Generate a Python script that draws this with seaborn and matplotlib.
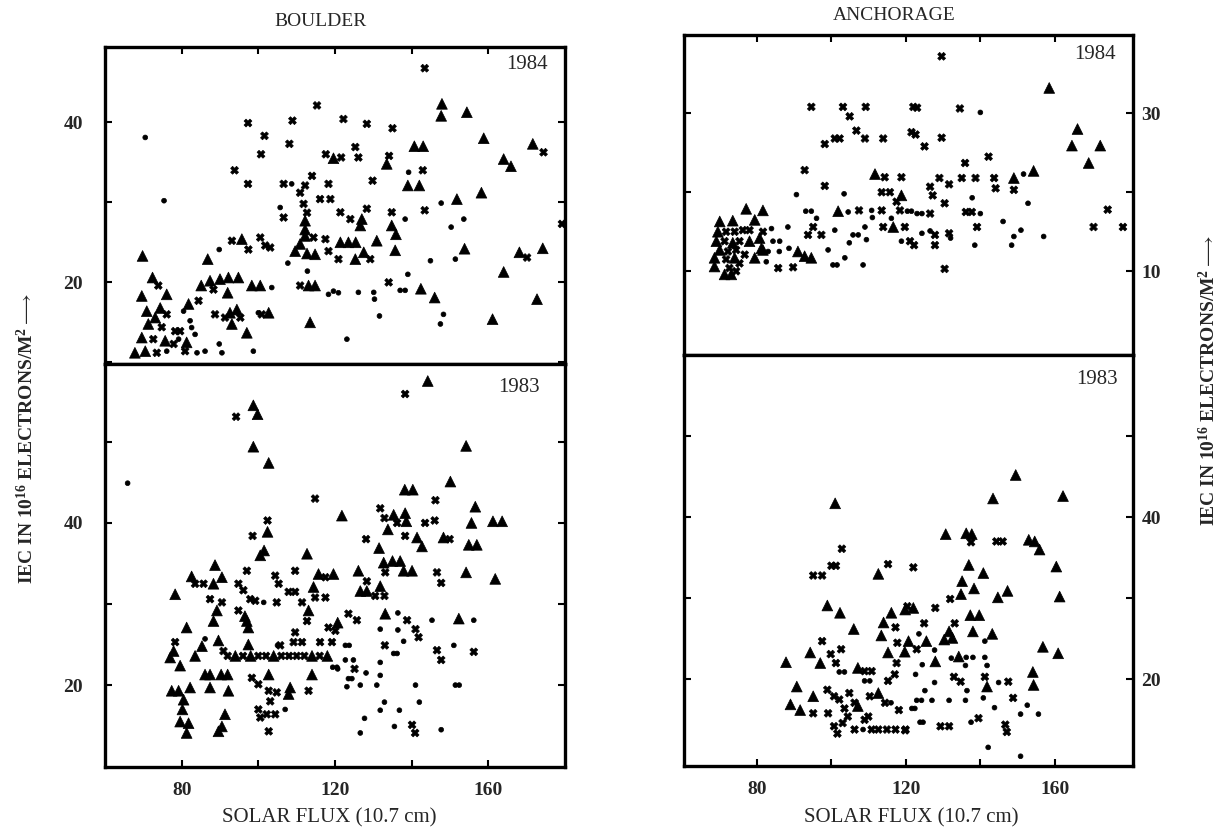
import matplotlib
matplotlib.use("Agg")
import matplotlib.pyplot as plt
import pandas as pd
import seaborn as sns

# ---------------- data (solar flux, IEC) ----------------
boulder84_tri = [(119.6,35.5),(112.2,27.7),(112.2,26.6),(112.2,25.8),(95.7,25.4),(86.8,22.9),(69.8,23.3),
    (109.6,23.9),(110.9,24.8),(112.7,23.6),(114.8,23.5),(85.1,19.6),(87.4,20.2),(90.0,20.4),(92.2,20.6),
    (94.8,20.6),(92.0,18.7),(98.3,19.6),(100.5,19.6),(113.1,19.6),(114.8,19.6),(72.4,20.6),(76.1,18.5),
    (69.6,18.3),(70.9,16.4),(74.4,16.8),(73.1,15.6),(71.3,14.8),(69.6,13.1),(75.7,12.7),(70.5,11.4),
    (67.8,11.2),(81.3,12.5),(81.8,17.3),(93.1,14.8),(92.6,16.2),(94.4,16.6),(97.0,13.7),(102.7,16.2),
    (113.5,15.0),(147.9,42.3),(147.7,40.8),(154.4,41.25),(140.7,37.0),(143.0,37.0),(158.8,38.0),
    (171.6,37.3),(133.5,34.8),(164.0,35.4),(165.9,34.5),(139.0,32.1),(142.0,32.1),(151.8,30.4),
    (158.2,31.2),(127.0,27.9),(126.6,27.1),(134.8,27.1),(135.9,26.0),(121.4,25.0),(123.5,25.0),
    (125.4,25.0),(127.5,23.75),(125.3,22.9),(130.9,25.2),(135.7,24.0),(153.8,24.2),(168.1,23.75),
    (174.2,24.25),(164.0,21.3),(142.4,19.2),(146.0,18.1),(172.7,17.9),(161.1,15.4)]
boulder84_x = [(115.3,42.1),(97.3,39.9),(108.9,40.2),(101.6,38.3),(108.1,37.3),(100.7,36.0),(117.6,36.0),
    (93.8,34.0),(97.3,32.3),(106.6,32.3),(112.2,32.1),(114.0,33.3),(110.9,31.2),(118.3,32.3),(116.1,30.4),
    (118.8,30.4),(106.6,28.1),(111.8,29.8),(112.7,28.7),(114.4,25.6),(117.5,25.4),(93.1,25.2),(97.4,24.1),
    (100.5,25.6),(101.8,24.6),(103.1,24.35),(118.3,23.9),(88.3,19.1),(110.9,19.6),(73.9,19.6),(76.1,16.0),
    (74.8,14.4),(72.6,12.9),(77.9,12.3),(73.5,11.2),(78.3,13.9),(79.6,13.9),(80.9,11.4),(84.4,17.7),
    (88.7,16.0),(91.3,15.6),(95.3,15.6),(100.9,16.0),(143.4,46.75),(122.2,40.4),(128.3,39.8),(135.0,39.25),
    (174.4,36.25),(121.6,35.6),(125.3,36.9),(126.1,35.6),(134.1,35.8),(142.9,34.0),(129.8,32.7),
    (143.4,29.0),(121.4,28.75),(124.0,27.9),(128.3,29.2),(134.8,28.75),(129.2,22.9),(120.9,22.9),
    (170.1,23.1),(179.2,27.3),(134.0,20.0)]
boulder84_dot = [(70.5,38.1),(108.7,32.3),(75.4,30.2),(105.7,29.35),(89.8,24.1),(107.7,22.4),(112.8,21.4),
    (103.5,19.35),(118.3,18.5),(119.6,18.9),(120.9,18.7),(76.1,11.4),(79.2,12.9),(82.2,15.2),(82.6,14.35),
    (83.5,13.5),(84.0,11.2),(86.1,11.4),(89.8,12.3),(90.5,11.2),(98.7,11.4),(80.5,16.4),(100.0,16.2),
    (139.2,33.75),(147.7,29.9),(138.3,27.9),(150.3,26.9),(153.6,27.9),(144.9,22.7),(151.4,22.9),
    (139.0,21.0),(137.0,19.0),(138.3,19.0),(126.1,18.75),(130.1,18.75),(130.3,17.9),(131.6,15.8),
    (148.3,16.0),(147.5,14.8),(123.1,12.9)]

boulder83_tri = [(98.7,54.5),(99.8,53.4),(98.7,49.4),(102.7,47.4),(102.4,38.9),(100.5,36.0),(101.5,36.6),
    (112.7,36.2),(88.7,34.8),(82.6,33.4),(78.3,31.2),(88.3,32.5),(90.5,33.3),(115.7,33.7),(119.6,33.7),
    (114.4,32.1),(113.1,29.2),(89.2,29.2),(88.3,27.9),(97.0,27.9),(97.4,27.1),(96.5,28.5),(81.3,27.1),
    (85.3,24.8),(77.9,24.2),(77.0,23.4),(83.5,23.6),(79.6,22.4),(89.6,25.5),(97.4,25.0),(86.1,21.3),
    (87.4,21.3),(90.3,21.3),(92.0,21.3),(87.4,19.7),(92.2,19.3),(77.4,19.3),(79.2,19.3),(82.2,19.7),
    (80.5,18.2),(80.2,17.0),(79.6,15.5),(81.8,15.3),(81.3,14.1),(91.3,16.4),(89.6,14.3),(90.5,14.9),
    (102.7,21.3),(107.9,18.9),(108.3,19.7),(114.0,21.3),(94.0,23.6),(98.0,23.6),(104.0,23.6),(114.0,23.6),
    (118.0,23.6),(144.2,57.5),(154.2,49.5),(150.1,45.1),(138.2,44.1),(140.3,44.1),(156.6,42.0),
    (121.8,40.9),(135.3,41.0),(138.3,41.2),(138.6,40.2),(133.8,39.2),(155.6,40.0),(161.2,40.2),
    (163.6,40.2),(141.4,38.2),(142.7,37.1),(148.3,38.2),(154.9,37.3),(157.0,37.3),(131.5,36.9),
    (132.7,35.1),(135.0,35.3),(137.0,35.3),(137.9,34.1),(140.1,34.1),(126.1,34.1),(154.2,33.9),
    (161.8,33.1),(126.6,31.6),(128.3,31.6),(131.8,32.2),(120.7,27.7),(133.1,28.8),(152.3,28.2)]
boulder83_x = [(94.2,53.1),(114.8,43.0),(102.4,40.3),(98.5,38.4),(97.0,34.1),(109.6,34.1),(83.5,32.5),
    (85.7,32.5),(87.4,30.6),(94.8,32.5),(96.1,31.7),(97.9,30.6),(99.2,30.4),(104.8,30.2),(104.4,33.5),
    (105.3,32.5),(117.5,33.3),(107.9,31.5),(109.6,31.5),(111.4,30.2),(114.8,30.8),(117.5,30.8),
    (112.7,27.9),(90.5,30.2),(94.8,29.2),(78.3,25.3),(90.9,24.2),(105.7,24.9),(109.2,25.3),(111.4,25.3),
    (116.1,25.3),(119.2,25.3),(109.6,26.5),(118.3,27.1),(120.1,26.7),(98.3,20.9),(100.0,20.1),
    (102.7,19.3),(104.8,19.1),(103.1,18.0),(100.0,17.0),(100.5,16.0),(102.2,16.4),(104.4,16.4),
    (102.7,14.3),(113.1,19.3),(92.0,23.6),(96.0,23.6),(100.0,23.6),(102.0,23.6),(106.0,23.6),
    (108.0,23.6),(110.0,23.6),(112.0,23.6),(116.0,23.6),(138.3,55.9),(146.2,42.8),(131.8,41.8),
    (132.9,40.6),(136.2,40.0),(143.5,40.0),(146.0,40.3),(138.3,38.4),(149.9,38.0),(128.1,38.0),
    (133.1,33.9),(128.3,32.8),(146.6,33.9),(147.7,32.6),(130.5,31.0),(132.9,31.0),(123.5,28.8),
    (125.7,28.0),(138.8,28.0),(141.0,26.9),(141.8,25.9),(133.0,24.9),(146.6,24.3),(147.7,23.1),
    (156.2,24.1),(125.1,22.0),(140.1,15.1),(140.9,14.1)]
boulder83_dot = [(65.9,44.9),(101.4,30.2),(86.1,25.7),(107.0,17.0),(120.5,22.2),(119.4,22.2),(105.0,24.9),
    (136.4,28.9),(145.3,28.0),(156.2,28.0),(131.8,26.9),(136.4,26.8),(137.9,25.4),(135.3,23.9),
    (136.2,23.9),(151.0,24.9),(122.7,24.9),(123.7,24.9),(122.7,23.1),(124.8,23.1),(120.7,22.0),
    (131.8,22.8),(128.1,21.5),(123.5,20.8),(124.4,20.8),(126.6,20.0),(123.1,19.8),(130.9,20.0),
    (141.0,20.0),(131.8,21.2),(151.4,20.0),(152.4,20.0),(132.9,17.9),(136.8,16.9),(142.0,17.9),
    (131.8,16.9),(127.7,15.9),(126.6,14.1),(135.5,14.9),(147.7,14.5)]

anchorage84_tri = [(111.7,22.3),(118.8,19.6),(77.1,17.9),(81.6,17.7),(101.8,17.6),(79.4,16.5),(116.6,15.6),
    (91.0,12.5),(92.8,11.9),(94.6,11.7),(70.0,16.3),(73.5,16.4),(69.5,15.0),(69.1,13.8),(73.5,13.6),
    (78.0,13.8),(80.7,14.2),(70.0,12.7),(81.6,12.7),(68.6,11.7),(74.0,11.7),(79.4,11.7),(68.6,10.6),
    (71.3,9.6),(73.1,9.6),(81.2,12.9),(158.5,33.2),(166.1,28.0),(164.6,25.9),(172.2,25.9),(169.1,23.7),
    (154.3,22.7),(149.0,21.8)]
anchorage84_x = [(94.6,30.8),(103.1,30.8),(104.9,29.6),(109.2,30.8),(122.0,30.8),(98.2,26.1),(100.9,26.8),
    (102.2,26.8),(106.7,27.8),(109.0,26.8),(113.9,26.8),(121.5,27.6),(92.8,22.8),(98.2,20.8),(114.3,21.9),
    (118.8,21.9),(113.5,20.0),(115.7,20.0),(117.5,18.8),(107.4,17.7),(113.5,17.7),(118.4,17.7),(95.1,15.6),
    (93.7,14.6),(113.9,15.6),(119.7,15.6),(97.3,14.6),(121.1,13.8),(89.7,10.5),(85.7,10.4),(76.2,15.2),
    (78.0,15.2),(71.7,15.0),(74.0,15.0),(71.3,13.8),(75.3,13.8),(72.2,12.5),(74.4,12.7),(76.7,12.1),
    (71.7,11.5),(75.3,11.0),(72.6,10.4),(74.4,10.0),(81.6,15.0),(129.6,37.2),(123.0,30.7),(134.5,30.6),
    (122.6,27.3),(125.0,25.8),(129.6,26.9),(135.9,23.7),(142.2,24.5),(143.7,21.8),(144.1,20.5),
    (149.0,20.3),(126.5,20.7),(127.2,19.6),(129.0,21.8),(131.6,21.0),(135.0,21.8),(138.7,21.8),
    (130.4,18.6),(174.2,17.8),(136.1,17.5),(137.7,17.5),(139.1,15.6),(126.5,17.3),(127.8,14.6),
    (131.6,14.8),(170.4,15.6),(178.3,15.6),(127.8,13.3),(122.2,13.3),(130.4,10.3)]
anchorage84_dot = [(90.6,19.7),(103.4,19.8),(93.1,17.6),(94.6,17.6),(96.0,16.7),(104.5,17.5),(110.8,17.7),
    (111.0,16.8),(120.4,17.6),(121.5,17.6),(88.3,15.6),(109.0,15.6),(100.9,15.2),(116.1,16.7),(105.8,14.6),
    (107.2,14.6),(104.8,13.6),(109.4,14.0),(118.8,13.8),(83.9,15.4),(84.3,13.8),(86.1,13.8),(88.6,12.9),
    (99.1,12.7),(100.4,10.8),(101.5,10.8),(103.6,11.7),(108.5,10.8),(83.0,12.5),(86.0,12.5),(82.5,11.2),
    (140.0,30.1),(151.6,22.3),(137.8,19.3),(152.8,18.6),(140.0,17.3),(146.1,16.3),(150.9,15.2),
    (124.3,17.3),(123.0,17.3),(126.5,15.1),(124.3,14.8),(149.0,14.4),(148.4,13.3),(157.0,14.4),
    (138.5,13.3),(132.0,14.2)]

anchorage83_tri = [(101.0,41.7),(112.6,33.0),(98.9,29.1),(102.3,28.2),(106.0,26.2),(116.1,28.2),(114.0,27.0),
    (113.4,25.4),(94.3,23.3),(97.0,22.0),(87.8,22.1),(115.2,23.3),(107.1,21.4),(90.7,19.1),(95.1,17.9),
    (89.0,16.9),(91.6,16.2),(107.1,16.7),(112.6,18.3),(149.5,45.2),(143.4,42.3),(162.2,42.6),(130.7,37.9),
    (136.2,38.0),(137.7,37.9),(153.0,37.2),(154.6,37.0),(155.9,36.0),(136.9,34.1),(140.8,33.1),
    (160.4,33.9),(135.1,32.1),(138.3,31.2),(134.8,30.5),(144.7,30.1),(147.3,30.9),(161.3,30.2),
    (122.0,28.8),(119.8,28.6),(137.3,27.9),(139.7,27.9),(138.0,25.9),(143.2,25.6),(131.6,25.9),
    (132.5,25.1),(130.3,24.9),(125.5,24.7),(120.7,24.7),(119.7,23.4),(127.9,22.2),(134.2,22.8),
    (156.8,24.0),(160.9,23.2),(154.1,20.9),(154.3,19.3),(141.8,19.1)]
anchorage83_x = [(102.8,36.1),(100.0,34.0),(101.2,34.0),(95.1,32.8),(97.5,32.8),(115.2,34.2),(117.2,26.4),
    (117.7,24.5),(120.4,29.0),(97.5,24.7),(99.8,23.1),(102.6,23.7),(101.2,22.0),(117.5,22.0),(108.9,21.0),
    (110.8,21.0),(115.2,19.8),(117.0,20.6),(95.1,15.8),(99.1,15.8),(98.9,18.7),(100.7,17.9),(102.1,17.5),
    (104.8,18.3),(106.2,17.1),(103.5,16.4),(104.4,15.4),(110.3,17.9),(114.4,17.1),(118.1,16.2),(109.9,15.4),
    (100.7,14.2),(103.0,14.6),(101.6,13.3),(106.2,13.8),(108.9,15.0),(110.8,13.8),(112.6,13.8),(114.9,13.8),
    (117.2,13.8),(119.9,13.8),(137.5,36.9),(144.3,37.0),(146.0,37.0),(122.0,33.8),(131.9,29.9),
    (127.9,28.8),(124.9,26.9),(133.1,26.9),(122.9,23.7),(132.9,20.3),(134.7,19.7),(141.2,20.3),
    (147.5,19.7),(148.8,17.7),(119.8,13.7),(129.3,14.2),(131.6,14.2),(139.5,15.2),(146.7,14.4),(147.1,13.5)]
anchorage83_dot = [(102.1,20.9),(103.5,20.9),(108.9,19.8),(110.3,19.8),(116.0,17.1),(108.5,13.8),
    (123.5,25.6),(127.7,23.6),(124.4,21.8),(132.2,22.6),(136.2,22.7),(138.0,22.7),(141.2,24.7),
    (141.2,22.7),(141.8,21.7),(136.0,21.7),(122.6,20.6),(127.7,19.6),(125.1,18.6),(136.4,18.6),
    (144.9,19.6),(122.9,17.4),(124.2,17.4),(127.0,17.4),(131.6,17.4),(136.0,17.4),(140.8,17.7),
    (143.8,16.5),(152.6,16.8),(150.8,15.7),(155.6,15.7),(121.6,16.4),(122.4,16.4),(123.8,14.7),
    (124.6,14.7),(137.5,14.7),(142.1,11.6),(150.8,10.5)]

x_tick_labels = ["80", "", "120", "", "160"]

# ---------------- style ----------------
sns.set_theme(style="white")
plt.rcParams["font.family"] = ["Liberation Serif", "DejaVu Serif"]
plt.rcParams["mathtext.fontset"] = "custom"
plt.rcParams["mathtext.rm"] = "Liberation Serif"
plt.rcParams["mathtext.it"] = "Liberation Serif:italic"
plt.rcParams["mathtext.bf"] = "Liberation Serif:bold"

def frame(tri, xx, dot):
    rows = [(f, v, "tri") for f, v in tri] + [(f, v, "x") for f, v in xx] + [(f, v, "dot") for f, v in dot]
    return pd.DataFrame(rows, columns=["flux", "iec", "kind"])

fig = plt.figure(figsize=(12.29, 8.36), dpi=100)
W, H = 1229, 836
def box(l, t, r, b):
    return [l / W, 1 - b / H, (r - l) / W, (b - t) / H]

panels = [
    dict(pos=box(105, 47, 565, 364), data=(boulder84_tri, boulder84_x, boulder84_dot), xlim=(60, 180),
         ylim=(9.8, 49.4), yt=[10, 20, 30, 40], ylab={20: "20", 40: "40"}, year="1984", side="left",
         bottom=False, ytxt=(0.963, 0.975)),
    dict(pos=box(105, 364, 565, 767), data=(boulder83_tri, boulder83_x, boulder83_dot), xlim=(60, 180),
         ylim=(9.9, 59.6), yt=[20, 30, 40, 50], ylab={20: "20", 40: "40"}, year="1983", side="left",
         bottom=True, ytxt=(0.946, 0.965)),
    dict(pos=box(684, 35, 1133, 355), data=(anchorage84_tri, anchorage84_x, anchorage84_dot), xlim=(60.4, 181),
         ylim=(-0.6, 39.9), yt=[10, 20, 30], ylab={10: "10", 30: "30"}, year="1984", side="right",
         bottom=False, ytxt=(0.962, 0.969)),
    dict(pos=box(684, 355, 1133, 766), data=(anchorage83_tri, anchorage83_x, anchorage83_dot), xlim=(60.4, 181),
         ylim=(9.3, 60), yt=[20, 30, 40, 50], ylab={20: "20", 40: "40"}, year="1983", side="right",
         bottom=True, ytxt=(0.967, 0.964)),
]

for p in panels:
    ax = fig.add_axes(p["pos"])
    df = frame(*p["data"])
    sns.scatterplot(data=df, x="flux", y="iec", style="kind", size="kind",
                    markers={"tri": "^", "x": "X", "dot": "o"},
                    sizes={"tri": 60, "x": 32, "dot": 12},
                    color="black", edgecolor="black", linewidth=0.5, legend=False, ax=ax)
    ax.set_xlim(*p["xlim"])
    ax.set_ylim(*p["ylim"])
    ax.set_xlabel("")
    ax.set_ylabel("")
    ax.set_xticks([80, 100, 120, 140, 160])
    if p["bottom"]:
        ax.set_xticklabels(x_tick_labels, fontsize=14, fontweight="bold")
    else:
        ax.set_xticklabels([])
    ax.set_yticks(p["yt"])
    ax.set_yticklabels([p["ylab"].get(t, "") for t in p["yt"]], fontsize=14, fontweight="bold")
    for s in ax.spines.values():
        s.set_visible(True)
        s.set_linewidth(2.4)
        s.set_color("black")
    ax.tick_params(axis="both", direction="in", length=5, width=1.5, color="black",
                   top=not p["bottom"], bottom=p["bottom"], left=True, right=True)
    ax.tick_params(axis="x", pad=11)
    if p["side"] == "left":
        ax.tick_params(axis="y", labelleft=True, labelright=False, pad=16)
    else:
        ax.tick_params(axis="y", labelleft=False, labelright=True, pad=6)
    ax.set_facecolor("white")
    ax.text(p["ytxt"][0], p["ytxt"][1], p["year"], transform=ax.transAxes, ha="right", va="top",
            fontsize=15)

fig.text(321 / W, 1 - 21 / H, "BOULDER", ha="center", va="center", fontsize=14)
fig.text(894 / W, 1 - 15 / H, "ANCHORAGE", ha="center", va="center", fontsize=14)
fig.text(329 / W, 1 - 818 / H, "SOLAR FLUX (10.7 cm)", ha="center", va="center", fontsize=15)
fig.text(911 / W, 1 - 818 / H, "SOLAR FLUX (10.7 cm)", ha="center", va="center", fontsize=15)

ylab = r"IEC IN 10$^{\mathbf{16}}$ ELECTRONS/M$^{\mathbf{2}}$$\longrightarrow$"
fig.text(27 / W, 1 - 439 / H, ylab, rotation=90, ha="center", va="center", fontsize=14, fontweight="bold")
fig.text(1209 / W, 1 - 381 / H, ylab, rotation=90, ha="center", va="center", fontsize=14, fontweight="bold")

fig.savefig("out.png", dpi=100, facecolor="white")
